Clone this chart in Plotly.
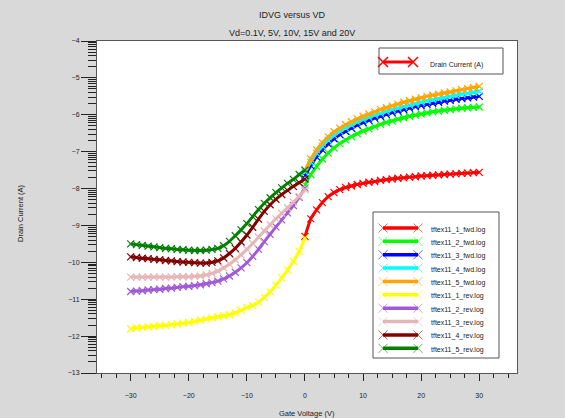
import plotly.graph_objects as go
import math

# ---------------- data ----------------
x_fwd = list(range(0, 31))
x_rev = list(range(-30, 1))

fwd_1 = [-9.30, -8.82, -8.58, -8.38, -8.22, -8.11, -8.03, -7.97, -7.93, -7.89, -7.86,
         -7.83, -7.81, -7.78, -7.76, -7.74, -7.72, -7.71, -7.69, -7.68, -7.66,
         -7.65, -7.64, -7.63, -7.62, -7.61, -7.60, -7.59, -7.58, -7.57, -7.56]
fwd_2 = [-7.90, -7.62, -7.40, -7.20, -7.04, -6.90, -6.78, -6.68, -6.59, -6.51, -6.44,
         -6.38, -6.32, -6.26, -6.21, -6.17, -6.12, -6.08, -6.04, -6.01, -5.98,
         -5.95, -5.92, -5.90, -5.88, -5.86, -5.84, -5.82, -5.81, -5.80, -5.79]
fwd_3 = [-7.65, -7.38, -7.14, -6.95, -6.79, -6.65, -6.54, -6.45, -6.36, -6.28, -6.21,
         -6.15, -6.09, -6.04, -5.99, -5.94, -5.90, -5.86, -5.82, -5.78, -5.75,
         -5.72, -5.69, -5.66, -5.63, -5.61, -5.58, -5.56, -5.54, -5.52, -5.50]
fwd_4 = [-7.55, -7.28, -7.04, -6.85, -6.69, -6.56, -6.45, -6.36, -6.28, -6.20, -6.13,
         -6.07, -6.01, -5.96, -5.91, -5.86, -5.82, -5.78, -5.74, -5.70, -5.66,
         -5.62, -5.59, -5.56, -5.53, -5.50, -5.47, -5.44, -5.42, -5.39, -5.36]
fwd_5 = [-7.50, -7.20, -6.95, -6.76, -6.60, -6.46, -6.36, -6.27, -6.19, -6.11, -6.04,
         -5.98, -5.92, -5.86, -5.81, -5.76, -5.71, -5.66, -5.62, -5.58, -5.54,
         -5.50, -5.47, -5.44, -5.41, -5.38, -5.35, -5.32, -5.29, -5.26, -5.23]

rev_1 = [-11.80, -11.78, -11.77, -11.75, -11.74, -11.72, -11.71, -11.69, -11.67, -11.65,
         -11.63, -11.60, -11.57, -11.54, -11.51, -11.48, -11.45, -11.42, -11.37, -11.30,
         -11.22, -11.17, -11.08, -10.95, -10.80, -10.62, -10.42, -10.21, -9.97, -9.70, -9.34]
rev_2 = [-10.79, -10.78, -10.77, -10.75, -10.74, -10.73, -10.71, -10.70, -10.68, -10.66,
         -10.65, -10.63, -10.61, -10.58, -10.55, -10.51, -10.45, -10.37, -10.27, -10.15,
         -10.01, -9.84, -9.65, -9.44, -9.24, -9.04, -8.85, -8.66, -8.46, -8.24, -7.98]
rev_3 = [-10.40, -10.40, -10.40, -10.40, -10.40, -10.40, -10.40, -10.40, -10.39, -10.39,
         -10.39, -10.38, -10.37, -10.34, -10.30, -10.24, -10.15, -10.05, -9.93, -9.80,
         -9.65, -9.49, -9.32, -9.15, -8.98, -8.82, -8.67, -8.52, -8.37, -8.21, -8.03]
rev_4 = [-9.85, -9.87, -9.89, -9.90, -9.92, -9.93, -9.95, -9.96, -9.98, -9.99,
         -10.00, -10.01, -10.02, -10.02, -10.00, -9.96, -9.88, -9.76, -9.62, -9.45,
         -9.26, -9.05, -8.83, -8.62, -8.44, -8.29, -8.16, -8.05, -7.94, -7.84, -7.74]
rev_5 = [-9.50, -9.52, -9.54, -9.56, -9.58, -9.60, -9.62, -9.63, -9.65, -9.66,
         -9.67, -9.68, -9.68, -9.67, -9.65, -9.62, -9.55, -9.43, -9.28, -9.12,
         -8.95, -8.76, -8.57, -8.40, -8.25, -8.11, -7.98, -7.86, -7.75, -7.62, -7.50]

series_names = ["tftex11_1_fwd.log", "tftex11_2_fwd.log", "tftex11_3_fwd.log",
                "tftex11_4_fwd.log", "tftex11_5_fwd.log", "tftex11_1_rev.log",
                "tftex11_2_rev.log", "tftex11_3_rev.log", "tftex11_4_rev.log",
                "tftex11_5_rev.log"]
series_x = [x_fwd] * 5 + [x_rev] * 5
series_y = [fwd_1, fwd_2, fwd_3, fwd_4, fwd_5, rev_1, rev_2, rev_3, rev_4, rev_5]
series_colors = ["#ff0000", "#00ff00", "#0000ff", "#00ffff", "#ffa500",
                 "#ffff00", "#a05ad8", "#e6b6b6", "#800000", "#008000"]

y_major = [-13, -12, -11, -10, -9, -8, -7, -6, -5, -4]
x_major = [-30, -20, -10, 0, 10, 20, 30]

title_text = "IDVG versus VD"
subtitle_text = "Vd=0.1V, 5V, 10V, 15V and 20V"
x_title = "Gate Voltage (V)"
y_title = "Drain Current (A)"
top_legend_text = "Drain Current (A)"

# ---------------- layout constants (pixels) ----------------
W, H = 565, 418
PL, PR, PT, PB = 97, 517, 41, 373
FONT = "Liberation Sans, Arial, Helvetica, sans-serif"


def px_x(p):
    return (p - PL) / (PR - PL)


def px_y(p):
    return (PB - p) / (PB - PT)


fig = go.Figure()

for name, xs, ys, col in zip(series_names, series_x, series_y, series_colors):
    fig.add_trace(go.Scatter(
        x=xs, y=ys, name=name, mode="lines+markers",
        line=dict(color=col, width=3, shape="spline", smoothing=0.6),
        marker=dict(symbol="x-thin", size=7, line=dict(color=col, width=1.2)),
        showlegend=False,
    ))

# ---------------- hand-made legends (pixel overlay axes) ----------------
shapes = []
annotations = []

# top legend
shapes.append(dict(type="rect", xref="x2", yref="y2", x0=379, x1=503, y0=48, y1=74,
                   line=dict(color="#555555", width=1), fillcolor="white", layer="below"))
fig.add_trace(go.Scatter(
    x=[383, 413], y=[62, 62], xaxis="x2", yaxis="y2", mode="lines+markers",
    line=dict(color="#ff0000", width=3),
    marker=dict(symbol="x-thin", size=10, line=dict(color="#ff0000", width=1.5)),
    showlegend=False, hoverinfo="skip", cliponaxis=False))
annotations.append(dict(xref="x2", yref="y2", x=428, y=64.5, text=top_legend_text,
                        showarrow=False, xanchor="left", yanchor="middle",
                        font=dict(size=7, color="#222222", family=FONT)))

# series legend
shapes.append(dict(type="rect", xref="x2", yref="y2", x0=373, x1=499, y0=212, y1=358,
                   line=dict(color="#555555", width=1), fillcolor="white", layer="below"))
row0, drow = 228, 13.37
for i, (name, col) in enumerate(zip(series_names, series_colors)):
    yy = row0 + i * drow
    fig.add_trace(go.Scatter(
        x=[383, 418], y=[yy, yy], xaxis="x2", yaxis="y2", mode="lines+markers",
        line=dict(color=col, width=3.5),
        marker=dict(symbol="x-thin", size=9, opacity=0.6, line=dict(color=col, width=1)),
        showlegend=False, hoverinfo="skip", cliponaxis=False))
    annotations.append(dict(xref="x2", yref="y2", x=429, y=yy + 1.5, text=name,
                            showarrow=False, xanchor="left", yanchor="middle",
                            font=dict(size=7, color="#222222", family=FONT)))

# titles
annotations.append(dict(xref="paper", yref="paper", x=px_x(292), y=px_y(15), text=title_text,
                        showarrow=False, xanchor="center", yanchor="middle",
                        font=dict(size=9, color="#222222", family=FONT)))
annotations.append(dict(xref="paper", yref="paper", x=px_x(292), y=px_y(33), text=subtitle_text,
                        showarrow=False, xanchor="center", yanchor="middle",
                        font=dict(size=9, color="#222222", family=FONT)))
annotations.append(dict(xref="paper", yref="paper", x=px_x(307), y=px_y(413), text=x_title,
                        showarrow=False, xanchor="center", yanchor="middle",
                        font=dict(size=7.5, color="#222222", family=FONT)))
annotations.append(dict(xref="paper", yref="paper", x=px_x(20), y=px_y(213), text=y_title,
                        showarrow=False, xanchor="center", yanchor="middle", textangle=-90,
                        font=dict(size=7.5, color="#222222", family=FONT)))

# log-style minor ticks on y
y_minor = []
for d in range(-13, -4):
    for k in range(2, 10):
        y_minor.append(d + math.log10(k))

fig.update_layout(
    width=W, height=H,
    margin=dict(l=PL, r=W - PR, t=PT, b=H - PB, pad=0),
    paper_bgcolor="#d9d9d9", plot_bgcolor="white",
    showlegend=False,
    font=dict(family=FONT, size=7, color="#222222"),
    xaxis=dict(range=[-35.8, 36.5], tickmode="array", tickvals=x_major,
               ticks="outside", ticklen=7, tickwidth=1, tickcolor="#222222",
               showgrid=False, zeroline=False, showline=True, linecolor="#555555",
               linewidth=1, mirror=True, ticklabelstandoff=9,
               tickfont=dict(size=7, color="#222222"),
               minor=dict(tickmode="linear", tick0=-35, dtick=2.5, ticks="outside",
                          ticklen=4, tickcolor="#222222", showgrid=False)),
    yaxis=dict(range=[-13, -4], tickmode="array", tickvals=y_major,
               ticks="outside", ticklen=15, tickwidth=1, tickcolor="#222222",
               showgrid=False, zeroline=False, showline=True, linecolor="#555555",
               linewidth=1, mirror=True,
               tickfont=dict(size=7, color="#222222"),
               minor=dict(tickmode="array", tickvals=y_minor, ticks="outside",
                          ticklen=8, tickcolor="#222222", showgrid=False)),
    xaxis2=dict(overlaying="x", range=[PL, PR], visible=False, fixedrange=True),
    yaxis2=dict(overlaying="y", range=[PB, PT], visible=False, fixedrange=True),
    shapes=shapes,
    annotations=annotations,
)

fig.write_html("out.html")
